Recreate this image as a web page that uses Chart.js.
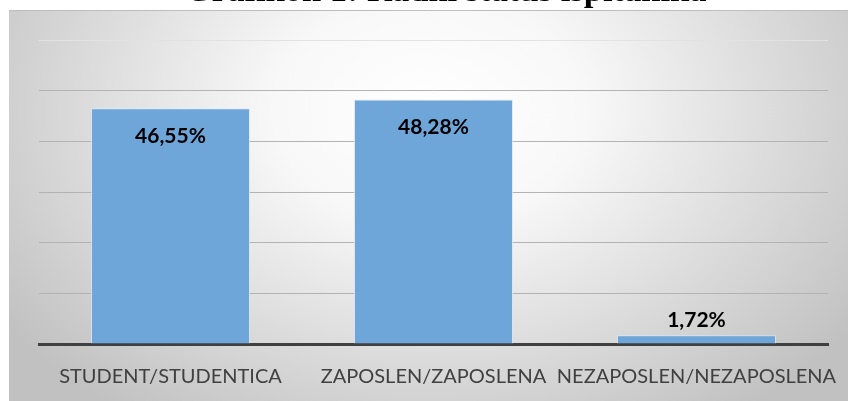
<!DOCTYPE html>
<html>
<head>
<meta charset="utf-8">
<script src="https://cdn.jsdelivr.net/npm/chart.js@4"></script>
<style>
  html, body { margin: 0; padding: 0; background: #ffffff; }
  #chartBox { width: 848px; height: 401px; }
</style>
</head>
<body>
<div id="chartBox"><canvas id="barChart"></canvas></div>
<script>
// Data
const chartTitle = "Grafikon 1: Radni status ispitanika";
const categories = ["STUDENT/STUDENTICA", "ZAPOSLEN/ZAPOSLENA", "NEZAPOSLEN/NEZAPOSLENA"];
const percentValues = [46.55, 48.28, 1.72];
const percentLabels = ["46,55%", "48,28%", "1,72%"];

// Gray radial background box plus the (cut off) title
const backgroundPlugin = {
  id: "backgroundBox",
  beforeDraw(chart) {
    const ctx = chart.ctx;
    const w = chart.width;
    const h = chart.height;
    ctx.save();
    ctx.fillStyle = "#ffffff";
    ctx.fillRect(0, 0, w, h);

    // elliptical gradient, light in the middle, gray at the edges
    ctx.save();
    ctx.beginPath();
    ctx.rect(9, 10, w - 9, h - 10);
    ctx.clip();
    ctx.translate(430, 110);
    ctx.scale(1, 0.72);
    const grad = ctx.createRadialGradient(0, 0, 0, 0, 0, 520);
    grad.addColorStop(0, "#ffffff");
    grad.addColorStop(0.3, "#f8f8f8");
    grad.addColorStop(1, "#c1c1c1");
    ctx.fillStyle = grad;
    ctx.fillRect(-700, -700, 1400, 1400);
    ctx.restore();

    // thin border on top of the box
    ctx.strokeStyle = "#bdbdbd";
    ctx.lineWidth = 1;
    ctx.beginPath();
    ctx.moveTo(9, 10.5);
    ctx.lineTo(w, 10.5);
    ctx.stroke();

    // title, only its bottom shows
    ctx.fillStyle = "#000000";
    ctx.font = "bold 34.5px 'Liberation Serif', 'Times New Roman', serif";
    ctx.textAlign = "left";
    ctx.textBaseline = "alphabetic";
    ctx.fillText(chartTitle, 185, 1);
    ctx.restore();
  },
};

// Value labels: inside the top of tall bars, above short ones
const valueLabelPlugin = {
  id: "valueLabels",
  afterDatasetsDraw(chart) {
    const ctx = chart.ctx;
    const bars = chart.getDatasetMeta(0).data;
    ctx.save();
    ctx.font = "bold 21px Lato, 'Open Sans', sans-serif";
    ctx.fillStyle = "#000000";
    ctx.textAlign = "center";
    ctx.textBaseline = "middle";
    bars.forEach((bar, i) => {
      const barHeight = bar.base - bar.y;
      const y = barHeight > 40 ? bar.y + 28 : bar.y - 15;
      ctx.fillText(percentLabels[i], bar.x, y);
    });
    ctx.restore();
  },
};

const ctx = document.getElementById("barChart").getContext("2d");

const barChart = new Chart(ctx, {
  type: "bar",
  data: {
    labels: categories,
    datasets: [
      {
        data: percentValues,
        backgroundColor: "#6fa6da",
        borderColor: "rgba(220, 235, 250, 0.8)",
        borderWidth: 1,
        categoryPercentage: 1,
        barPercentage: 0.605,
      },
    ],
  },
  options: {
    responsive: true,
    maintainAspectRatio: false,
    animation: false,
    layout: {
      padding: { left: 39, right: 20, top: 40, bottom: 0 },
    },
    plugins: {
      legend: { display: false },
      title: { display: false },
      tooltip: { enabled: false },
    },
    scales: {
      x: {
        grid: { display: false },
        border: { display: true, color: "#404040", width: 3 },
        ticks: {
          color: "#404040",
          font: { family: "Lato, 'Open Sans', sans-serif", size: 20 },
          padding: 13,
          maxRotation: 0,
          autoSkip: false,
        },
        afterFit: (scale) => {
          scale.height = 57; // puts the axis line at y = 344
          scale.paddingLeft = 0; // long last label must not shrink the plot
          scale.paddingRight = 0;
        },
      },
      y: {
        min: 0,
        max: 60,
        ticks: { display: false, stepSize: 10 },
        border: { display: false },
        grid: {
          drawTicks: false,
          color: (c) => (c.tick && c.tick.value === 60 ? "#e2e2e2" : "#b3b3b3"),
          lineWidth: 1,
        },
        afterFit: (scale) => {
          scale.width = 0;
        },
      },
    },
  },
  plugins: [backgroundPlugin, valueLabelPlugin],
});
</script>
</body>
</html>
